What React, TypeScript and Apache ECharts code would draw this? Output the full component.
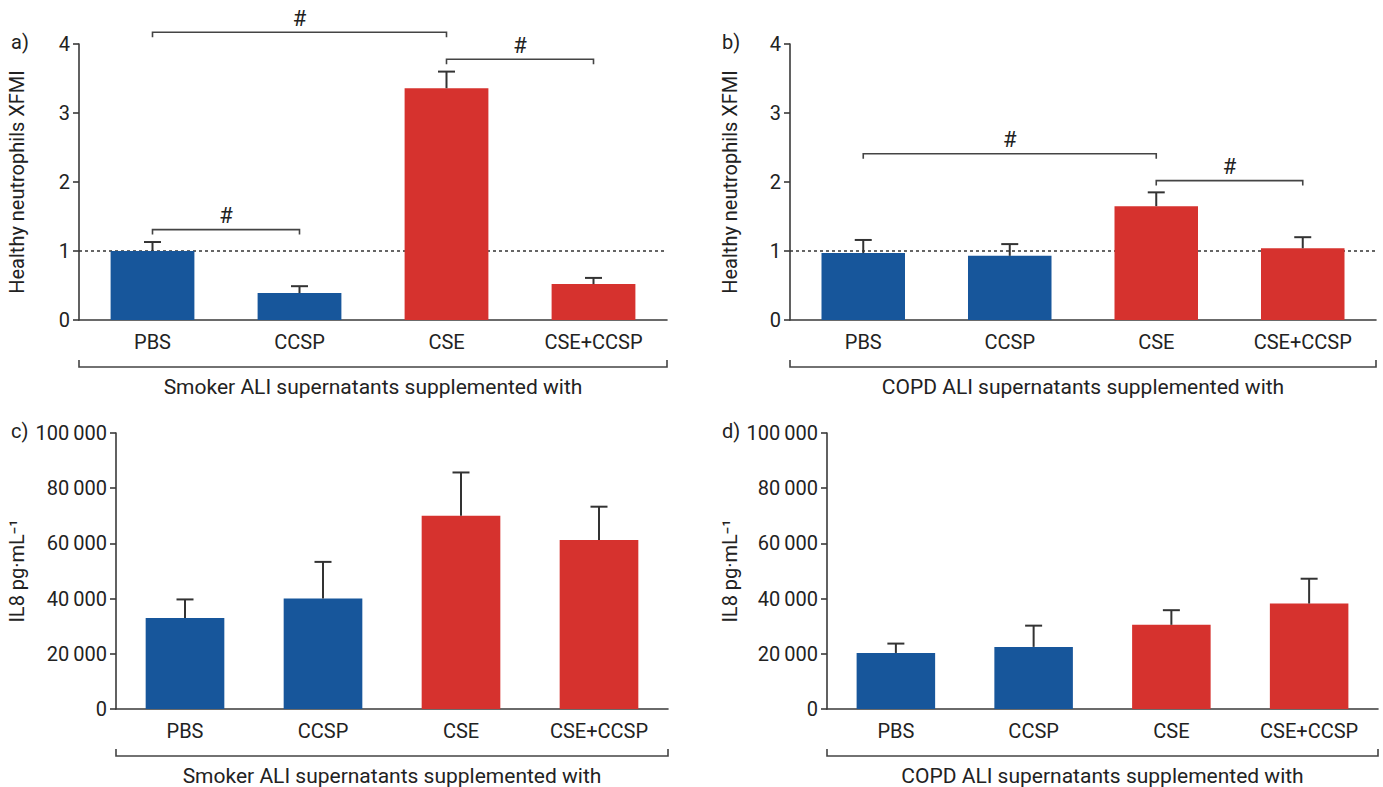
import React, { useEffect, useRef } from "react";
import * as echarts from "echarts";

const categories = ["PBS", "CCSP", "CSE", "CSE+CCSP"];
const barColors = ["#17569b", "#17569b", "#d6322e", "#d6322e"];

const aMeans = [1.0, 0.39, 3.36, 0.52];
const aErrTop = [1.13, 0.49, 3.6, 0.61];
const bMeans = [0.97, 0.93, 1.65, 1.04];
const bErrTop = [1.16, 1.1, 1.85, 1.2];
const cMeans = [33000, 40000, 70000, 61200];
const cErrTop = [39700, 53300, 85700, 73300];
const dMeans = [20300, 22500, 30500, 38200];
const dErrTop = [23700, 30200, 35800, 47200];

// [fromCategory, toCategory, yValue]
const aBrackets = [
  [0, 2, 4.17],
  [2, 3, 3.78],
  [0, 1, 1.31],
];
const bBrackets = [
  [0, 2, 2.41],
  [2, 3, 2.02],
];

const yTicksTop = [0, 1, 2, 3, 4];
const yTicksBottom = [0, 20000, 40000, 60000, 80000, 100000];

const panelLetters = ["a)", "b)", "c)", "d)"];
const groupTitles = [
  "Smoker ALI supernatants supplemented with",
  "COPD ALI supernatants supplemented with",
  "Smoker ALI supernatants supplemented with",
  "COPD ALI supernatants supplemented with",
];
const yNames = [
  "Healthy neutrophils XFMI",
  "Healthy neutrophils XFMI",
  "IL8 pg·mL⁻¹",
  "IL8 pg·mL⁻¹",
];

const FONT = "Roboto, 'DejaVu Sans', sans-serif";
const AX = "#3a3a3a";

const grids = [
  { left: 79, top: 44, width: 588, height: 276 },
  { left: 790, top: 44, width: 586, height: 276 },
  { left: 116, top: 433, width: 552, height: 276 },
  { left: 827, top: 433, width: 551, height: 276 },
];
const nameGaps = [52, 50, 89, 87];

function fmtThousands(v: number) {
  const s = String(v);
  if (s.length <= 3) return s;
  return s.slice(0, s.length - 3) + "\u2009" + s.slice(s.length - 3);
}

export default function App() {
  const ref = useRef<HTMLDivElement>(null);
  useEffect(() => {
    if (!ref.current) return;
    const chart = echarts.init(ref.current, null, { renderer: "svg" });

    const means = [aMeans, bMeans, cMeans, dMeans];
    const errs = [aErrTop, bErrTop, cErrTop, dErrTop];
    const brackets = [aBrackets, bBrackets, [], []];

    const xAxis: any[] = [];
    const yAxis: any[] = [];
    const series: any[] = [];
    const graphic: any[] = [];

    grids.forEach((g, i) => {
      const isTop = i < 2;
      xAxis.push({
        type: "category",
        gridIndex: i,
        data: categories,
        axisLine: { lineStyle: { color: AX, width: 1.6 } },
        axisTick: { alignWithLabel: true, length: 8, lineStyle: { color: AX, width: 1.6 } },
        axisLabel: { color: "#222", fontSize: 20, fontFamily: FONT, margin: 12 },
      });
      const ticks = isTop ? yTicksTop : yTicksBottom;
      yAxis.push({
        type: "value",
        gridIndex: i,
        min: ticks[0],
        max: ticks[ticks.length - 1],
        interval: ticks[1] - ticks[0],
        splitLine: { show: false },
        axisLine: { show: true, lineStyle: { color: AX, width: 1.6 } },
        axisTick: { show: true, length: 6, lineStyle: { color: AX, width: 1.6 } },
        axisLabel: {
          color: "#222",
          fontSize: 20,
          fontFamily: FONT,
          margin: 9,
          formatter: (v: number) => fmtThousands(v),
        },
        name: yNames[i],
        nameLocation: "middle",
        nameGap: nameGaps[i],
        nameTextStyle: { color: "#222", fontSize: 20, fontFamily: FONT },
      });

      series.push({
        type: "bar",
        xAxisIndex: i,
        yAxisIndex: i,
        barWidth: "57%",
        z: 3,
        data: means[i].map((v, k) => ({ value: v, itemStyle: { color: barColors[k] } })),
        markLine: isTop
          ? {
              silent: true,
              symbol: "none",
              label: { show: false },
              z: 1,
              lineStyle: { color: "#333", type: [3, 3], width: 1.5 },
              data: [{ yAxis: 1 }],
            }
          : undefined,
      });

      series.push({
        type: "custom",
        xAxisIndex: i,
        yAxisIndex: i,
        z: 4,
        encode: { x: 0, y: [1, 2] },
        data: means[i].map((v, k) => [k, v, errs[i][k]]),
        renderItem: (params: any, api: any) => {
          const p0 = api.coord([api.value(0), api.value(1)]);
          const p1 = api.coord([api.value(0), api.value(2)]);
          const cap = 8.5;
          return {
            type: "group",
            children: [
              {
                type: "line",
                shape: { x1: p0[0], y1: p0[1], x2: p1[0], y2: p1[1] },
                style: { stroke: "#333", lineWidth: 2 },
              },
              {
                type: "line",
                shape: { x1: p1[0] - cap, y1: p1[1], x2: p1[0] + cap, y2: p1[1] },
                style: { stroke: "#333", lineWidth: 2 },
              },
            ],
          };
        },
      });

      if (brackets[i].length) {
        series.push({
          type: "custom",
          xAxisIndex: i,
          yAxisIndex: i,
          z: 5,
          encode: { x: [0, 1], y: 2 },
          data: brackets[i],
          renderItem: (params: any, api: any) => {
            const a = api.coord([api.value(0), api.value(2)]);
            const b = api.coord([api.value(1), api.value(2)]);
            const drop = 5;
            return {
              type: "group",
              children: [
                {
                  type: "polyline",
                  shape: {
                    points: [
                      [a[0], a[1] + drop],
                      [a[0], a[1]],
                      [b[0], b[1]],
                      [b[0], b[1] + drop],
                    ],
                  },
                  style: { stroke: "#444", lineWidth: 1.6, fill: "none" },
                },
                {
                  type: "text",
                  x: (a[0] + b[0]) / 2,
                  y: a[1] - 14,
                  style: {
                    text: "#",
                    fontSize: 22,
                    fontFamily: FONT,
                    fill: "#222",
                    align: "center",
                    verticalAlign: "middle",
                  },
                },
              ],
            };
          },
        });
      }

      // panel letter
      graphic.push({
        type: "text",
        left: i % 2 === 0 ? 11 : 722,
        top: g.top - 12,
        style: { text: panelLetters[i], fontSize: 20, fontFamily: FONT, fill: "#222" },
      });

      // group bracket below x axis
      const by = isTop ? 367 : 756;
      graphic.push({
        type: "polyline",
        shape: {
          points: [
            [g.left, by - 7],
            [g.left, by],
            [g.left + g.width, by],
            [g.left + g.width, by - 7],
          ],
        },
        style: { stroke: "#444", lineWidth: 1.6, fill: "none" },
      });
      graphic.push({
        type: "text",
        x: g.left + g.width / 2,
        y: by + 20,
        style: {
          text: groupTitles[i],
          fontSize: 21,
          fontFamily: FONT,
          fill: "#222",
          align: "center",
          verticalAlign: "middle",
        },
      });
    });

    chart.setOption({
      animation: false,
      backgroundColor: "#ffffff",
      grid: grids.map((g) => ({ ...g, containLabel: false })),
      xAxis,
      yAxis,
      series,
      graphic,
    });

    return () => chart.dispose();
  }, []);

  return (
    <div
      ref={ref}
      style={{ position: "fixed", left: 0, top: 0, width: 1383, height: 787, background: "#fff" }}
    />
  );
}
